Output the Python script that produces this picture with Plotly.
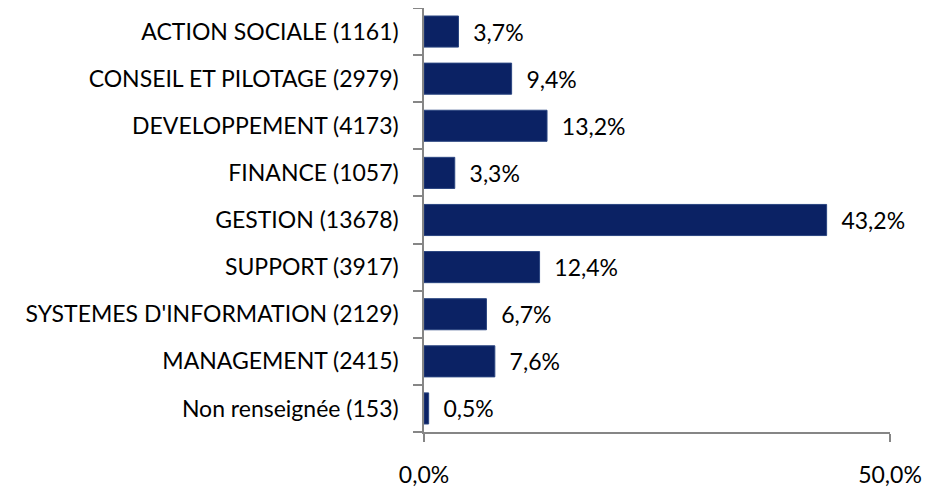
import plotly.graph_objects as go

categories = [
    "ACTION SOCIALE (1161)",
    "CONSEIL ET PILOTAGE (2979)",
    "DEVELOPPEMENT (4173)",
    "FINANCE (1057)",
    "GESTION (13678)",
    "SUPPORT (3917)",
    "SYSTEMES D'INFORMATION (2129)",
    "MANAGEMENT (2415)",
    "Non renseignée (153)",
]
shares = [0.037, 0.094, 0.132, 0.033, 0.432, 0.124, 0.067, 0.076, 0.005]
x_ticks = [0.0, 0.5]

bar_color = "#0B2264"
axis_color = "#868686"
font_family = "Lato, 'Open Sans', sans-serif"

fig = go.Figure()

fig.add_trace(go.Bar(
    y=categories,
    x=shares,
    orientation="h",
    marker=dict(color=bar_color, line=dict(color="#2A4580", width=1)),
    width=0.66,
    text=shares,
    texttemplate="  %{x:.1%}",
    textposition="outside",
    textfont=dict(size=23, color="#000000", family=font_family),
    cliponaxis=False,
    showlegend=False,
))

# la page html a une marge de 8px : on compense dans les marges
fig.update_layout(
    width=940,
    height=488,
    margin=dict(l=416, r=58, t=0, b=64),
    paper_bgcolor="white",
    plot_bgcolor="white",
    separators=", ",
    font=dict(family=font_family, size=23, color="#000000"),
    xaxis=dict(
        range=[0, 0.5],
        tickvals=x_ticks,
        tickformat=".1%",
        showgrid=False,
        zeroline=False,
        showline=True,
        linecolor=axis_color,
        linewidth=1.5,
        ticks="outside",
        ticklen=8,
        tickcolor=axis_color,
        tickwidth=1.5,
        ticklabelstandoff=14,
        fixedrange=True,
    ),
    yaxis=dict(
        categoryorder="array",
        categoryarray=categories[::-1],
        showgrid=False,
        zeroline=False,
        showline=True,
        linecolor=axis_color,
        linewidth=1.5,
        ticks="outside",
        ticklen=9,
        tickcolor=axis_color,
        tickwidth=1.5,
        tickson="boundaries",
        ticklabelstandoff=19,
        fixedrange=True,
    ),
)

fig.write_html("out.html")
